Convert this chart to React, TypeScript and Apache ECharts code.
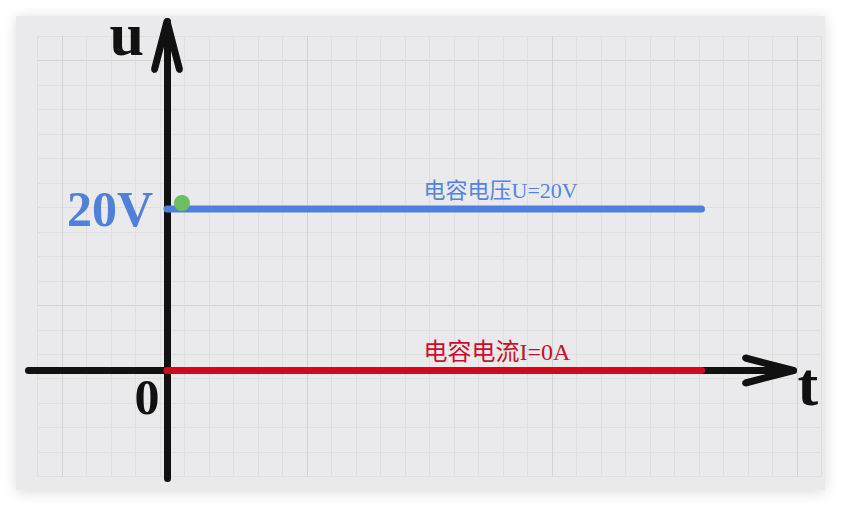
import React, { useEffect, useRef } from "react";
import * as echarts from "echarts";

// ---- data ----
const timeValues = [0, 10];
const voltageValues = [20, 20];
const currentValues = [0, 0];
const yTickValues = [20];
const yTickLabels = ["20V"];
const xTickValues = [0];
const xTickLabels = ["0"];
const voltageLabel = "电容电压U=20V";
const currentLabel = "电容电流I=0A";
const xAxisName = "t";
const yAxisName = "u";
const cursorPoint = [0.28, 20.74];
const labelAnchorT = 4.8;

// ---- layout / style constants ----
const GRID_LEFT = 28.5;
const GRID_TOP = 21.5;
const GRID_W = 765;
const GRID_H = 457;
const X_MIN = -2.591;
const X_MAX = 11.721;
const Y_MIN = -13.375;
const Y_MAX = 43.22;
// pixel position of the data origin inside the grid (axes cross at t=0, u=0)
const ORIGIN_X = GRID_LEFT + (GRID_W * (0 - X_MIN)) / (X_MAX - X_MIN);
const ORIGIN_Y = GRID_TOP + (GRID_H * (Y_MAX - 0)) / (Y_MAX - Y_MIN);

const ARROW_PATH =
  "path://M0,-3.5 L1.8,-3 L3.387,-0.882 L15.887,47.118 L15.519,49.771 L13.382,51.387 L10.729,51.019 L9.113,48.882 L0,13.89 L-9.113,48.882 L-10.729,51.019 L-13.382,51.387 L-15.519,49.771 L-15.887,47.118 L-3.387,-0.882 L-1.8,-3 Z";
const ARROW_W = 31.774;
const ARROW_H = 54.887;
const ARROW_BACK = 23.94;

const SERIF = "'Liberation Serif', 'Times New Roman', serif";
const MIXED = "'Liberation Serif', 'Noto Sans CJK SC', serif";
const AXIS_COLOR = "#111111";
const BLUE = "#4f81da";
const RED = "#cf0a1e";
const MINOR = "#dfdee1";
const MAJOR = "#d3d2d6";

const xGridColors = [MINOR, MAJOR, MINOR, MINOR, MINOR, MINOR, MINOR, MINOR, MINOR, MINOR];
const yGridColors = [MINOR, MINOR, MINOR, MINOR, MINOR, MINOR, MINOR, MAJOR, MINOR, MINOR];

export default function App() {
  const ref = useRef<HTMLDivElement>(null);

  useEffect(() => {
    document.body.style.margin = "0";
    if (!ref.current) return;
    const chart = echarts.init(ref.current, null, { renderer: "svg" });

    const voltageData = timeValues.map((t, i) => [t, voltageValues[i]]);
    const currentData = timeValues.map((t, i) => [t, currentValues[i]]);

    const axisLineBase = {
      onZero: false,
      symbol: ["none", ARROW_PATH],
      symbolSize: [ARROW_W, ARROW_H],
      symbolOffset: [0, -ARROW_BACK],
      lineStyle: { color: AXIS_COLOR, width: 7, cap: "round" },
    };

    const option: any = {
      animation: false,
      backgroundColor: "#ffffff",
      graphic: [
        {
          type: "rect",
          z: -10,
          silent: true,
          shape: { x: 16, y: 16, width: 809, height: 474 },
          style: {
            fill: "#eae9eb",
            shadowBlur: 14,
            shadowColor: "rgba(0,0,0,0.14)",
            shadowOffsetY: 2,
          },
        },
      ],
      grid: [
        { left: GRID_LEFT, top: GRID_TOP, width: GRID_W, height: GRID_H, containLabel: false, outerBoundsMode: "none" },
        { left: 37.7, top: 36, width: 784, height: 440.64, containLabel: false, outerBoundsMode: "none" },
      ],
      xAxis: [
        {
          type: "value",
          gridIndex: 0,
          min: X_MIN,
          max: X_MAX,
          position: "bottom",
          offset: -(GRID_TOP + GRID_H - ORIGIN_Y),
          axisLine: axisLineBase,
          axisTick: { show: false },
          splitLine: { show: false },
          axisLabel: {
            customValues: xTickValues,
            formatter: (v: number) => {
              const i = xTickValues.indexOf(v);
              return i >= 0 ? xTickLabels[i] : "";
            },
            fontFamily: SERIF,
            fontWeight: "bold",
            fontSize: 50,
            color: AXIS_COLOR,
            align: "right",
            padding: [0, 7.5, 0, 0],
            margin: 2,
          },
          name: xAxisName,
          nameLocation: "end",
          nameGap: 4,
          nameTextStyle: {
            fontFamily: SERIF,
            fontWeight: "bold",
            fontSize: 62,
            lineHeight: 28,
            color: AXIS_COLOR,
            align: "left",
            verticalAlign: "top",
          },
        },
        {
          type: "value",
          gridIndex: 1,
          min: 0,
          max: 32,
          interval: 1,
          axisLine: { show: false },
          axisTick: { show: false },
          axisLabel: { show: false },
          splitLine: { show: true, lineStyle: { color: xGridColors, width: 1 } },
        },
      ],
      yAxis: [
        {
          type: "value",
          gridIndex: 0,
          min: Y_MIN,
          max: Y_MAX,
          position: "left",
          offset: -(ORIGIN_X - GRID_LEFT),
          axisLine: axisLineBase,
          axisTick: { show: false },
          splitLine: { show: false },
          axisLabel: {
            customValues: yTickValues,
            formatter: (v: number) => {
              const i = yTickValues.indexOf(v);
              return i >= 0 ? yTickLabels[i] : "";
            },
            fontFamily: SERIF,
            fontWeight: "bold",
            fontSize: 50,
            color: BLUE,
            margin: 14,
          },
          name: yAxisName,
          nameLocation: "end",
          nameGap: -12.6,
          nameTextStyle: {
            fontFamily: SERIF,
            fontWeight: "bold",
            fontSize: 62,
            color: AXIS_COLOR,
            align: "right",
            verticalAlign: "middle",
            padding: [0, 23, 0, 0],
          },
        },
        {
          type: "value",
          gridIndex: 1,
          min: 0,
          max: 18,
          interval: 1,
          axisLine: { show: false },
          axisTick: { show: false },
          axisLabel: { show: false },
          splitLine: { show: true, lineStyle: { color: yGridColors, width: 1 } },
        },
      ],
      series: [
        {
          type: "line",
          name: "电容电压",
          xAxisIndex: 0,
          yAxisIndex: 0,
          data: voltageData,
          symbol: "none",
          showSymbol: false,
          lineStyle: { color: BLUE, width: 7, cap: "round" },
          z: 3,
          markPoint: {
            silent: true,
            data: [
              {
                coord: [labelAnchorT, voltageValues[0]],
                symbol: "circle",
                symbolSize: 1,
                itemStyle: { color: "rgba(0,0,0,0)" },
                label: {
                  show: true,
                  position: "top",
                  distance: 7,
                  align: "left",
                  formatter: voltageLabel,
                  color: "#5584d8",
                  fontSize: 22,
                  fontFamily: MIXED,
                },
              },
              {
                coord: cursorPoint,
                symbol: "circle",
                symbolSize: 16,
                itemStyle: { color: "#6dbd62" },
                label: { show: false },
              },
            ],
          },
        },
        {
          type: "line",
          name: "电容电流",
          xAxisIndex: 0,
          yAxisIndex: 0,
          data: currentData,
          symbol: "none",
          showSymbol: false,
          lineStyle: { color: RED, width: 7, cap: "round" },
          z: 3,
          markPoint: {
            silent: true,
            data: [
              {
                coord: [labelAnchorT, currentValues[0]],
                symbol: "circle",
                symbolSize: 1,
                itemStyle: { color: "rgba(0,0,0,0)" },
                label: {
                  show: true,
                  position: "top",
                  distance: 6,
                  align: "left",
                  formatter: currentLabel,
                  color: "#c8102a",
                  fontSize: 24,
                  fontFamily: MIXED,
                },
              },
            ],
          },
        },
      ],
    };

    chart.setOption(option);
    return () => chart.dispose();
  }, []);

  return <div ref={ref} style={{ width: 841, height: 506 }} />;
}
